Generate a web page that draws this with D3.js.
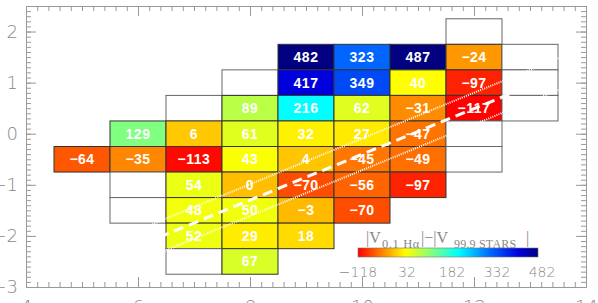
<!DOCTYPE html>
<html>
<head>
<meta charset="utf-8">
<script src="https://cdn.jsdelivr.net/npm/d3@7"></script>
<style>
  body { margin: 0; background: #fff; }
  svg { display: block; }
</style>
</head>
<body>
<svg id="canvas" width="598" height="303"></svg>
<script>
"use strict"

// column and row centres of the grid (data units)
const colCenters = [5, 6, 7, 8, 9, 10, 11, 12, 13];
const rowCenters = [2, 1.5, 1, 0.5, 0, -0.5, -1, -1.5, -2, -2.5];

// cell values, null = no cell, "E" = empty outlined box
const gridValues = [
  [null, null, null, null, null, null, null, "E", null],
  [null, null, null, null, 482, 323, 487, -24, "E"],
  [null, null, null, "E", 417, 349, 40, -97, "E"],
  [null, null, "E", 89, 216, 62, -31, -117, "E"],
  [null, 129, 6, 61, 32, 27, -47, "E", null],
  [-64, -35, -113, 43, 4, -45, -49, "E", null],
  [null, "E", 54, 0, -70, -56, -97, null, null],
  [null, "E", 48, 50, -3, -70, null, null, null],
  [null, null, 52, 29, 18, null, null, null, null],
  [null, null, "E", 67, null, null, null, null, null]
];

// colour table stops
const colorStops = [-118, 40, 129, 216, 323, 417, 482];
const colorList = ["#ff0000", "#ffff00", "#80ff80", "#00ffff", "#0066ff", "#0000dd", "#000080"];

// colour bar tick labels
const barTicks = [-118, 32, 182, 332, 482];

// axis ticks
const xTicks = [4, 6, 8, 10, 12, 14];
const yTicks = [-3, -2, -1, 0, 1, 2];

// fitted line (dashed) and its spread (dotted)
const fitX = [4, 14];
const fitY = [-3.09, 1.387];
const fitSpread = 0.31;

let drawing = d3.select("#canvas");
drawing.append("rect").attr("width", 598).attr("height", 303).attr("fill", "white");

let plotLeft = 26, plotRight = 586, plotTop = 6, plotBottom = 287;
let x = d3.scaleLinear().domain([4, 14]).range([plotLeft, plotRight]);
let y = d3.scaleLinear().domain([-3, 2.5]).range([plotBottom, plotTop]);
let color = d3.scaleLinear().domain(colorStops).range(colorList).clamp(true);

/* cells */
let cells = [];
gridValues.forEach(function (row, i) {
  row.forEach(function (v, j) {
    if (v !== null) cells.push({ cx: colCenters[j], cy: rowCenters[i], v: v });
  });
});

let cellG = drawing.append("g");
cellG.selectAll("rect")
  .data(cells)
  .enter().append("rect")
  .attr("x", d => x(d.cx - 0.5))
  .attr("y", d => y(d.cy + 0.25))
  .attr("width", d => x(d.cx + 0.5) - x(d.cx - 0.5))
  .attr("height", d => y(d.cy - 0.25) - y(d.cy + 0.25))
  .attr("fill", d => d.v === "E" ? "white" : color(d.v))
  .attr("stroke", d => d.v === "E" ? "#666" : "#333")
  .attr("stroke-width", 1);

cellG.selectAll("text")
  .data(cells.filter(d => d.v !== "E"))
  .enter().append("text")
  .attr("x", d => x(d.cx))
  .attr("y", d => y(d.cy))
  .attr("dy", "0.36em")
  .attr("text-anchor", "middle")
  .attr("font-family", "'Liberation Sans', Arial, sans-serif")
  .attr("font-weight", "bold")
  .attr("font-size", 14)
  .attr("letter-spacing", 0.5)
  .attr("fill", "white")
  .text(d => d.v < 0 ? "\u2212" + Math.abs(d.v) : String(d.v));

/* fitted lines, clipped to the plot box */
drawing.append("clipPath").attr("id", "plotClip")
  .append("rect").attr("x", plotLeft).attr("y", plotTop)
  .attr("width", plotRight - plotLeft).attr("height", plotBottom - plotTop);

let lineG = drawing.append("g").attr("clip-path", "url(#plotClip)");
let line = d3.line().x(d => x(d[0])).y(d => y(d[1]));
let fitPts = fitX.map((v, i) => [v, fitY[i]]);

lineG.append("path")
  .attr("d", line(fitPts))
  .attr("fill", "none").attr("stroke", "white")
  .attr("stroke-width", 3).attr("stroke-dasharray", "10,6");

[fitSpread, -fitSpread].forEach(function (off) {
  lineG.append("path")
    .attr("d", line(fitPts.map(p => [p[0], p[1] + off])))
    .attr("fill", "none").attr("stroke", "white")
    .attr("stroke-width", 2).attr("stroke-dasharray", "1,1.2");
});

/* axes, ticks pointing inward */
let axisColor = "#999";
let labelFont = "'DejaVu Sans', sans-serif";

function styleAxis(g) {
  g.select(".domain").attr("stroke", axisColor);
  g.selectAll(".tick line").attr("stroke", axisColor);
  g.selectAll(".tick text")
    .attr("fill", "#888")
    .attr("font-family", labelFont)
    .attr("font-weight", 200)
    .attr("font-size", 18);
}

let xMinor = d3.range(4, 14.001, 0.2);
let yMinor = d3.range(-3, 2.501, 0.1);
let intFmt = d3.format("d");

// bottom
drawing.append("g").attr("transform", `translate(0,${plotBottom})`)
  .call(d3.axisBottom(x).tickValues(xMinor).tickSize(-5).tickFormat("").tickSizeOuter(0)).call(styleAxis);
drawing.append("g").attr("transform", `translate(0,${plotBottom})`)
  .call(d3.axisBottom(x).tickValues(xTicks).tickFormat(intFmt).tickSize(-10).tickPadding(13).tickSizeOuter(0)).call(styleAxis);
// top
drawing.append("g").attr("transform", `translate(0,${plotTop})`)
  .call(d3.axisTop(x).tickValues(xMinor).tickSize(-5).tickFormat("").tickSizeOuter(0)).call(styleAxis);
drawing.append("g").attr("transform", `translate(0,${plotTop})`)
  .call(d3.axisTop(x).tickValues(xTicks).tickSize(-10).tickFormat("").tickSizeOuter(0)).call(styleAxis);
// left
drawing.append("g").attr("transform", `translate(${plotLeft},0)`)
  .call(d3.axisLeft(y).tickValues(yMinor).tickSize(-5).tickFormat("").tickSizeOuter(0)).call(styleAxis);
drawing.append("g").attr("transform", `translate(${plotLeft},0)`)
  .call(d3.axisLeft(y).tickValues(yTicks).tickFormat(intFmt).tickSize(-10).tickPadding(8).tickSizeOuter(0)).call(styleAxis);
// right
drawing.append("g").attr("transform", `translate(${plotRight},0)`)
  .call(d3.axisRight(y).tickValues(yMinor).tickSize(-5).tickFormat("").tickSizeOuter(0)).call(styleAxis);
drawing.append("g").attr("transform", `translate(${plotRight},0)`)
  .call(d3.axisRight(y).tickValues(yTicks).tickSize(-10).tickFormat("").tickSizeOuter(0)).call(styleAxis);

/* colour bar */
let barLeft = 358, barRight = 538, barTop = 248, barH = 9;
let barX = d3.scaleLinear().domain([-118, 482]).range([barLeft, barRight]);

let grad = drawing.append("defs").append("linearGradient").attr("id", "barGrad");
d3.range(0, 1.0001, 0.02).forEach(function (t) {
  let v = -118 + t * 600;
  grad.append("stop").attr("offset", t).attr("stop-color", color(v));
});
drawing.append("rect")
  .attr("x", barLeft).attr("y", barTop)
  .attr("width", barRight - barLeft).attr("height", barH)
  .attr("fill", "url(#barGrad)")
  .attr("stroke", "#777").attr("stroke-width", 0.6);

drawing.append("g").selectAll("text")
  .data(barTicks)
  .enter().append("text")
  .attr("x", d => barX(d) + (d === -118 ? 0 : 4))
  .attr("y", 277)
  .attr("text-anchor", "middle")
  .attr("font-family", labelFont)
  .attr("font-weight", 200)
  .attr("font-size", 14)
  .attr("fill", "#888")
  .text(d => d < 0 ? "\u2212" + Math.abs(d) : String(d));

/* colour bar title */
let title = drawing.append("text")
  .attr("y", 243)
  .attr("font-family", "'Liberation Serif', 'DejaVu Serif', serif")
  .attr("font-size", 16)
  .attr("fill", "#888");
title.append("tspan").attr("x", 366).text("|V");
title.append("tspan").attr("x", 382).attr("dy", 5).attr("font-size", 12.5).attr("letter-spacing", 0.6).text("0.1 H\u03b1");
title.append("tspan").attr("x", 421).attr("dy", -5).text("|\u2212|V");
title.append("tspan").attr("x", 454).attr("dy", 5).attr("font-size", 12).attr("letter-spacing", 0.2).text("99.9 STARS");
title.append("tspan").attr("x", 526).attr("dy", -5).text("|");
</script>
</body>
</html>
